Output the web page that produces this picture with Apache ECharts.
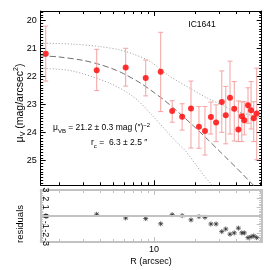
<!DOCTYPE html>
<html><head><meta charset="utf-8">
<script src="https://cdn.jsdelivr.net/npm/echarts@6/dist/echarts.min.js"></script>
<style>html,body{margin:0;padding:0;background:#fff}#c{width:270px;height:270px}</style>
</head><body><div id="c"></div>
<script>
// ---- data ----
const R      = [1.60, 3.79, 6.19, 8.69, 11.2, 13.6, 16.1, 18.7, 21.4, 23.7, 26.2, 28.6, 31.5, 33.7, 36.2, 38.9, 41.7, 44.2, 46.1, 49.1, 51.7, 54.1, 56.9];
const mu     = [21.19, 21.77, 21.68, 22.05, 21.83, 23.23, 23.43, 23.14, 23.79, 23.94, 23.44, 23.64, 22.91, 23.38, 22.76, 23.15, 23.89, 23.42, 23.56, 23.02, 23.20, 23.49, 23.32];
const muTop  = [20.20, 21.03, 20.99, 21.41, 20.42, 22.86, 22.97, 22.16, 23.07, 23.07, 22.91, 23.01, 21.80, 22.35, 21.45, 22.18, 22.87, 22.90, 22.90, 22.40, 22.18, 22.90, 21.70];
const muBot  = [22.16, 22.50, 22.34, 22.69, 23.25, 23.63, 23.91, 24.55, 24.56, 24.80, 24.05, 24.32, 23.99, 24.40, 24.05, 24.30, 24.32, 24.32, 24.08, 23.67, 23.87, 24.32, 24.97];
const resid  = [0.0, 0.2, -0.23, -0.3, -0.9, 0.15, 0.05, -0.45, -0.07, -0.15, -0.92, -0.92, -1.8, -1.5, -2.1, -1.95, -1.4, -1.95, -1.95, -2.5, -2.4, -2.3, -2.5];

const fitR   = [1.47, 2, 3, 4, 5, 6, 8, 10, 12, 15, 20, 25, 30, 35, 40, 45, 50, 55];
const fitMu  = [21.26, 21.30, 21.42, 21.57, 21.73, 21.90, 22.24, 22.57, 22.86, 23.26, 23.81, 24.26, 24.64, 24.96, 25.24, 25.49, 25.72, 25.92];
const upR    = [1.47, 2.5, 4.0, 5.5, 7.0, 9.35, 12.7, 18.4, 24.9, 32.2, 36.2, 43, 50.8, 61.9];
const upMu   = [20.81, 20.84, 20.93, 21.04, 21.19, 21.46, 21.95, 22.42, 22.78, 23.03, 23.17, 23.28, 23.37, 23.48];
const loR    = [1.47, 2.5, 4.74, 7.05, 9.35, 12.74, 14.7, 17, 20, 23, 26.6, 28];
const loMu   = [21.70, 21.80, 22.24, 22.72, 23.30, 24.02, 24.35, 24.65, 25.1, 25.5, 25.87, 26.05];

// ---- ticks ----
const xMajor = [10];
const xMinor = [2, 3, 4, 5, 6, 7, 8, 9, 20, 30, 40, 50, 60];
const yMajor = [20, 21, 22, 23, 24, 25];
const resMajor = [-3, -2, -1, 0, 1, 2, 3];
const yMinor = []; for (let k = 197; k <= 258; k++) if (k % 10) yMinor.push(k / 10);
const resMinor = []; for (let k = -15; k <= 15; k++) if (k % 5) resMinor.push(k / 5);

const FONT = 'Liberation Sans, Arial, Helvetica, sans-serif';
const X_MIN = 1.469, X_MAX = 61.9, Y_MIN = 19.66, Y_MAX = 25.88;

function xAx(g, pos, major, showLine, col, lw, labels) {
  return {
    type: 'log', logBase: 10, gridIndex: g, position: pos, min: X_MIN, max: X_MAX,
    splitLine: { show: false },
    axisLine: { show: showLine, onZero: false, lineStyle: { color: col, width: lw } },
    axisTick: { show: true, inside: true, length: major ? 5 : 3, customValues: major ? xMajor : xMinor, lineStyle: { color: col, width: 1 } },
    axisLabel: labels ? { show: true, customValues: xMajor, margin: 3, fontSize: 9, color: '#000', fontFamily: FONT, formatter: v => String(Math.round(v)) } : { show: false }
  };
}
function yAx(g, pos, major, showLine, col, lw, min, max, inv, majV, minV, labelCfg) {
  return {
    type: 'value', gridIndex: g, position: pos, min: min, max: max, inverse: inv,
    splitLine: { show: false },
    axisLine: { show: showLine, onZero: false, lineStyle: { color: col, width: lw } },
    axisTick: { show: true, inside: true, length: major ? 5 : 2.5, customValues: major ? majV : minV, lineStyle: { color: col, width: 1 } },
    axisLabel: labelCfg ? labelCfg : { show: false }
  };
}
const GRAY = '#c2c2c2';
const xAxis = [
  xAx(0, 'bottom', true, true, '#000', 1, false),
  xAx(0, 'bottom', false, false, '#000', 1, false),
  xAx(0, 'top', true, true, '#000', 1, false),
  xAx(0, 'top', false, false, '#000', 1, false),
  xAx(1, 'bottom', true, true, GRAY, 2, true),
  xAx(1, 'bottom', false, false, GRAY, 2, false),
  xAx(1, 'top', true, true, GRAY, 2, false),
  xAx(1, 'top', false, false, GRAY, 2, false)
];
const yAxis = [
  yAx(0, 'left', true, true, '#000', 1, Y_MIN, Y_MAX, true, yMajor, yMinor,
      { show: true, customValues: yMajor, margin: 4, fontSize: 9, color: '#000', fontFamily: FONT }),
  yAx(0, 'left', false, false, '#000', 1, Y_MIN, Y_MAX, true, yMajor, yMinor),
  yAx(0, 'right', true, true, '#000', 1, Y_MIN, Y_MAX, true, yMajor, yMinor),
  yAx(0, 'right', false, false, '#000', 1, Y_MIN, Y_MAX, true, yMajor, yMinor),
  yAx(1, 'left', true, true, GRAY, 2, -3, 3, false, resMajor, resMinor,
      { show: true, customValues: resMajor, inside: true, rotate: -90, margin: 0, fontSize: 9, color: '#000', fontFamily: FONT }),
  yAx(1, 'left', false, false, GRAY, 2, -3, 3, false, resMajor, resMinor),
  yAx(1, 'right', true, true, GRAY, 2, -3, 3, false, resMajor, resMinor),
  yAx(1, 'right', false, false, GRAY, 2, -3, 3, false, resMajor, resMinor)
];

const zip = (a, b) => a.map((v, i) => [v, b[i]]);

const option = {
  animation: false,
  backgroundColor: '#fff',
  grid: [
    { left: 40.7, top: 11, width: 221, height: 174.3 },
    { left: 40.7, top: 190, width: 221, height: 52 }
  ],
  xAxis: xAxis,
  yAxis: yAxis,
  series: [
    { type: 'line', xAxisIndex: 0, yAxisIndex: 0, data: zip(upR, upMu), symbol: 'none', smooth: 0.3,
      lineStyle: { color: '#9a9a9a', width: 1, type: [1, 2] }, z: 2 },
    { type: 'line', xAxisIndex: 0, yAxisIndex: 0, data: zip(loR, loMu), symbol: 'none', smooth: 0.3,
      lineStyle: { color: '#9a9a9a', width: 1, type: [1, 2] }, z: 2 },
    { type: 'line', xAxisIndex: 0, yAxisIndex: 0, data: zip(fitR, fitMu), symbol: 'none', smooth: 0.3,
      lineStyle: { color: '#707070', width: 1, type: [6, 3] }, z: 2 },
    { type: 'custom', xAxisIndex: 0, yAxisIndex: 0, z: 3,
      data: R.map((r, i) => [r, muTop[i], muBot[i]]),
      encode: { x: 0, y: [1, 2] },
      renderItem: function (params, api) {
        const x = api.value(0);
        const p1 = api.coord([x, api.value(1)]);
        const p2 = api.coord([x, api.value(2)]);
        const w = 2.5;
        const st = { stroke: '#f4a3a3', lineWidth: 1 };
        return { type: 'group', children: [
          { type: 'line', shape: { x1: p1[0], y1: p1[1], x2: p2[0], y2: p2[1] }, style: st },
          { type: 'line', shape: { x1: p1[0] - w, y1: p1[1], x2: p1[0] + w, y2: p1[1] }, style: st },
          { type: 'line', shape: { x1: p2[0] - w, y1: p2[1], x2: p2[0] + w, y2: p2[1] }, style: st }
        ] };
      } },
    { type: 'scatter', xAxisIndex: 0, yAxisIndex: 0, data: zip(R, mu), symbol: 'circle', symbolSize: 6,
      itemStyle: { color: '#ff0000' }, z: 4 },
    { type: 'scatter', xAxisIndex: 4, yAxisIndex: 4, data: zip(R, resid),
      symbol: 'path://M0,5H10M5,0V10M1.5,1.5L8.5,8.5M8.5,1.5L1.5,8.5', symbolSize: 5,
      itemStyle: { color: 'none', borderColor: '#333', borderWidth: 1 }, z: 4,
      markLine: { silent: true, symbol: 'none', label: { show: false },
        lineStyle: { color: GRAY, width: 2, type: 'solid' }, data: [{ yAxis: 0 }] } }
  ],
  graphic: [
    { type: 'text', x: 202, y: 25, style: { text: 'IC1641', fontSize: 8.5, fontFamily: FONT, fill: '#000', align: 'center', verticalAlign: 'middle' } },
    { type: 'text', x: 53, y: 128, style: { text: '{a|μ}{s|VB}{a| = 21.2 ± 0.3 mag (″)}{p|−2}', fontFamily: FONT, fill: '#000', align: 'left', verticalAlign: 'middle',
        rich: { a: { fontSize: 8.5, fontFamily: FONT, lineHeight: 12, verticalAlign: 'middle' },
                s: { fontSize: 6, fontFamily: FONT, lineHeight: 7, verticalAlign: 'bottom' },
                p: { fontSize: 6, fontFamily: FONT, lineHeight: 7, verticalAlign: 'top' } } } },
    { type: 'text', x: 91, y: 143, style: { text: '{a|r}{s|c}{a| =  6.3 ± 2.5 ″}', fontFamily: FONT, fill: '#000', align: 'left', verticalAlign: 'middle',
        rich: { a: { fontSize: 8.5, fontFamily: FONT, lineHeight: 12, verticalAlign: 'middle' },
                s: { fontSize: 6, fontFamily: FONT, lineHeight: 7, verticalAlign: 'bottom' } } } },
    { type: 'text', x: 20, y: 103, rotation: Math.PI / 2, style: { text: '{a|μ}{s|V}{a| (mag/arcsec}{p|2}{a|)}', fontFamily: FONT, fill: '#000', align: 'center', verticalAlign: 'middle',
        rich: { a: { fontSize: 10.5, fontFamily: FONT, lineHeight: 14, verticalAlign: 'middle' },
                s: { fontSize: 7, fontFamily: FONT, lineHeight: 8, verticalAlign: 'bottom' },
                p: { fontSize: 7, fontFamily: FONT, lineHeight: 8, verticalAlign: 'top' } } } },
    { type: 'text', x: 20, y: 224, rotation: Math.PI / 2, style: { text: 'residuals', fontSize: 9.5, fontFamily: FONT, fill: '#000', align: 'center', verticalAlign: 'middle' } },
    { type: 'text', x: 151, y: 262, style: { text: 'R (arcsec)', fontSize: 9, fontFamily: FONT, fill: '#000', align: 'center', verticalAlign: 'middle' } }
  ]
};
const chart = echarts.init(document.getElementById('c'), null, { renderer: 'canvas', width: 270, height: 270 });
chart.setOption(option);
</script>
</body></html>
